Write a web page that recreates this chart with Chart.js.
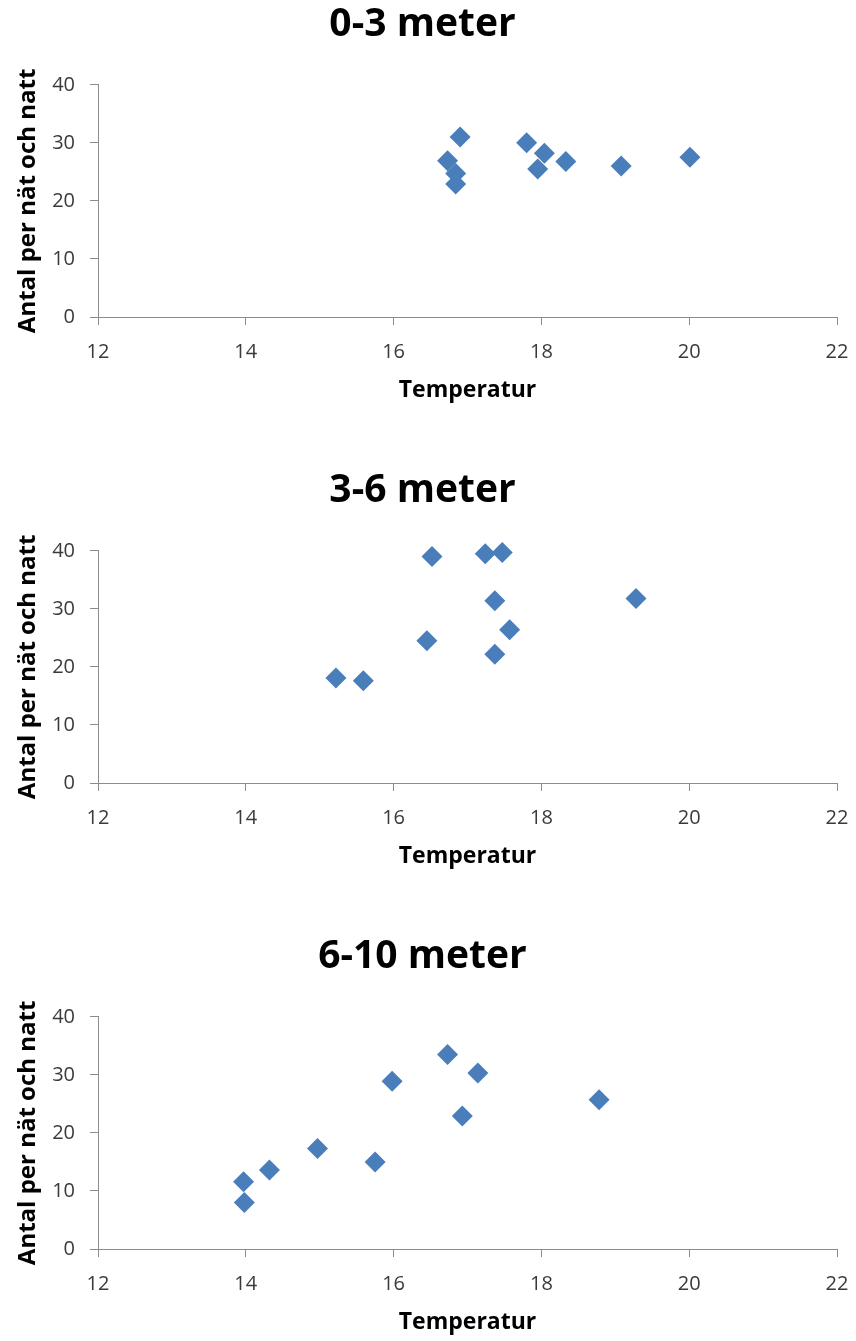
<!DOCTYPE html>
<html>
<head>
<meta charset="utf-8">
<script src="https://cdn.jsdelivr.net/npm/chart.js@4.4.0/dist/chart.umd.min.js"></script>
<style>
  body { margin: 0; background: #fff; }
  .panel { position: absolute; left: 0; width: 856px; height: 409px; }
</style>
</head>
<body>
<div class="panel" style="top:0"><canvas id="c1" width="856" height="409"></canvas></div>
<div class="panel" style="top:466px"><canvas id="c2" width="856" height="409"></canvas></div>
<div class="panel" style="top:932px"><canvas id="c3" width="856" height="409"></canvas></div>
<script>
// Temperatur (x) och antal per nät och natt (y), per djupintervall
var titles = ['0-3 meter', '3-6 meter', '6-10 meter'];
var xTitle = 'Temperatur';
var yTitle = 'Antal per nät och natt';

var temp03 = [16.90, 16.73, 16.84, 16.84, 17.80, 18.04, 17.95, 18.33, 19.08, 20.01];
var antal03 = [31.0, 26.9, 24.7, 22.9, 30.0, 28.2, 25.5, 26.8, 26.0, 27.5];

var temp36 = [15.22, 15.59, 16.45, 16.52, 17.24, 17.47, 17.37, 17.57, 17.37, 19.28];
var antal36 = [18.1, 17.6, 24.5, 39.0, 39.5, 39.7, 31.4, 26.4, 22.2, 31.8];

var temp610 = [13.97, 13.98, 14.32, 14.97, 15.75, 15.98, 16.73, 17.14, 16.93, 18.78];
var antal610 = [11.6, 8.0, 13.6, 17.3, 15.0, 28.9, 33.5, 30.3, 22.9, 25.7];

var xMin = 12, xMax = 22, xStep = 2;
var yMin = 0, yMax = 40, yStep = 10;

Chart.defaults.font.family = "'Open Sans', sans-serif";
Chart.defaults.color = '#3a3a3a';

function toPoints(xs, ys) {
    var pts = [];
    for (var i = 0; i < xs.length; i++) {
        pts.push({ x: xs[i], y: ys[i] });
    }
    return pts;
}

function makeChart(id, title, xs, ys) {
    return new Chart(document.getElementById(id), {
        type: 'scatter',
        data: {
            datasets: [{
                data: toPoints(xs, ys),
                pointStyle: 'rectRot',
                pointRadius: 10.5,
                backgroundColor: '#4A7EBB',
                borderColor: '#4A7EBB',
                borderWidth: 0,
                clip: false
            }]
        },
        options: {
            responsive: false,
            animation: false,
            layout: { autoPadding: false, padding: { left: 8, right: 19, top: 0, bottom: 0 } },
            plugins: {
                legend: { display: false },
                tooltip: { enabled: false },
                title: {
                    display: true,
                    text: title,
                    color: '#000',
                    font: { size: 39, weight: 'bold' },
                    padding: { top: 1, bottom: 37 }
                }
            },
            scales: {
                x: {
                    type: 'linear',
                    min: xMin,
                    max: xMax,
                    afterFit: function (s) {
                        s.height = 92;
                        s.paddingLeft = 0;
                        s.paddingRight = 0;
                    },
                    ticks: { stepSize: xStep, padding: 15, font: { size: 20 }, color: '#3a3a3a' },
                    grid: { drawOnChartArea: false, drawTicks: true, tickLength: 8, color: '#8c8c8c' },
                    border: { color: '#8c8c8c' },
                    title: {
                        display: true,
                        text: xTitle,
                        color: '#000',
                        font: { size: 23, weight: 'bold' },
                        padding: { top: 0, bottom: 5 }
                    }
                },
                y: {
                    min: yMin,
                    max: yMax,
                    afterFit: function (s) {
                        s.width = 90;
                        s.paddingTop = 0;
                        s.paddingBottom = 0;
                    },
                    ticks: { stepSize: yStep, padding: 15, font: { size: 20 }, color: '#3a3a3a' },
                    grid: { drawOnChartArea: false, drawTicks: true, tickLength: 8, color: '#8c8c8c' },
                    border: { color: '#8c8c8c' },
                    title: {
                        display: true,
                        text: yTitle,
                        color: '#000',
                        font: { size: 24, weight: 'bold' },
                        padding: { top: 6, bottom: 0 }
                    }
                }
            }
        }
    });
}

makeChart('c1', titles[0], temp03, antal03);
makeChart('c2', titles[1], temp36, antal36);
makeChart('c3', titles[2], temp610, antal610);
</script>
</body>
</html>
